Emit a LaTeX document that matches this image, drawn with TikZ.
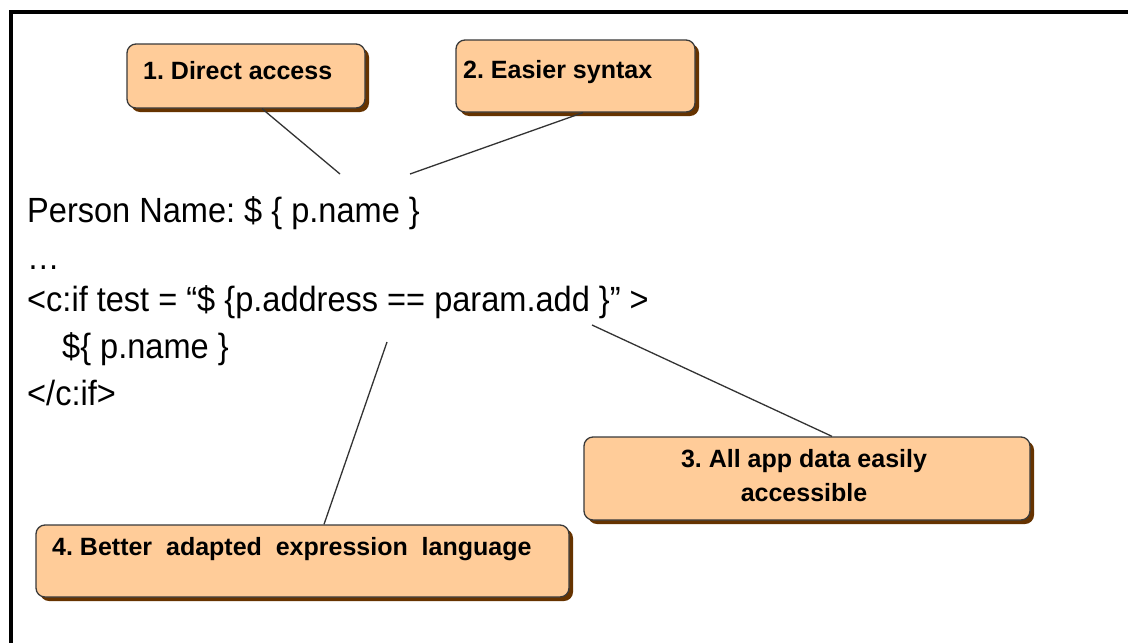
\documentclass[tikz,border=0pt]{standalone}
\usepackage{fontspec}
\setmainfont{Liberation Sans}
\newfontfamily\codefont[FakeStretch=0.93]{Liberation Sans}
\usetikzlibrary{shadows,calc}
\definecolor{boxfill}{HTML}{FFCC99}
\definecolor{boxedge}{HTML}{3A3A3A}
\definecolor{shadowbrown}{HTML}{663300}
\definecolor{linkgray}{HTML}{333333}
\tikzset{
  callout/.style={draw=boxedge, line width=1.3pt, fill=boxfill, rounded corners=9pt,
    inner sep=0pt, drop shadow={shadow xshift=4pt, shadow yshift=-4pt, fill=shadowbrown, opacity=1}},
  boxtext/.style={inner sep=0pt, font=\frenchspacing\bfseries\fontsize{25}{34}\selectfont},
  codetext/.style={inner sep=0pt, anchor=base west, font=\frenchspacing\codefont\fontsize{35}{40}\selectfont},
  link/.style={draw=linkgray, line width=1.3pt},
}
\begin{document}
\frenchspacing
\begin{tikzpicture}[x=1pt, y=-1pt]
\useasboundingbox (0,0) rectangle (1128,643);
\fill[white] (0,0) rectangle (1128,643);
% frame
\draw[line width=4pt] (11,643) -- (11,12) -- (1128,12);
% callout boxes
\node[callout, minimum width=238pt, minimum height=64pt] (b1) at (246,76) {};
\node[boxtext, anchor=base west] (t1) at (143,79) {1. Direct access};
\node[callout, minimum width=239pt, minimum height=72pt] (b2) at (575.5,76) {};
\node[boxtext, anchor=base west] (t2) at (463,78) {2. Easier syntax};
\node[callout, minimum width=446pt, minimum height=83pt] (b3) at (807,478.5) {};
\node[boxtext, align=center, anchor=base] (t3) at (804,501) {3. All app data easily\\accessible};
\node[callout, minimum width=533pt, minimum height=72pt] (b4) at (302.5,561) {};
\node[boxtext, anchor=base west] (t4) at (52,555) {4. Better\ \ adapted\ \ expression\ \ language};
% code text
\node[codetext] (l1) at (27,222) {Person Name: \$ \{ p.name \}};
\node[codetext] (l2) at (27,269) {…};
\node[codetext] (l3) at (27,311) {<c:if test = “\$ \{p.address == param.add \}” >};
\node[codetext] (l4) at (62,358) {\$\{ p.name \}};
\node[codetext] (l5) at (27,405) {</c:if>};
% connector ends
\coordinate (e1) at (340,174);
\coordinate (e2) at (410,174);
\coordinate (e3) at (592,325);
\coordinate (e4) at (387,342);
\draw[link] ([xshift=16pt]b1.south) -- (e1);
\draw[link] ([xshift=7.5pt]b2.south) -- (e2);
\draw[link] ([xshift=25pt]b3.north) -- (e3);
\draw[link] ([xshift=21.5pt]b4.north) -- (e4);
\end{tikzpicture}
\end{document}
